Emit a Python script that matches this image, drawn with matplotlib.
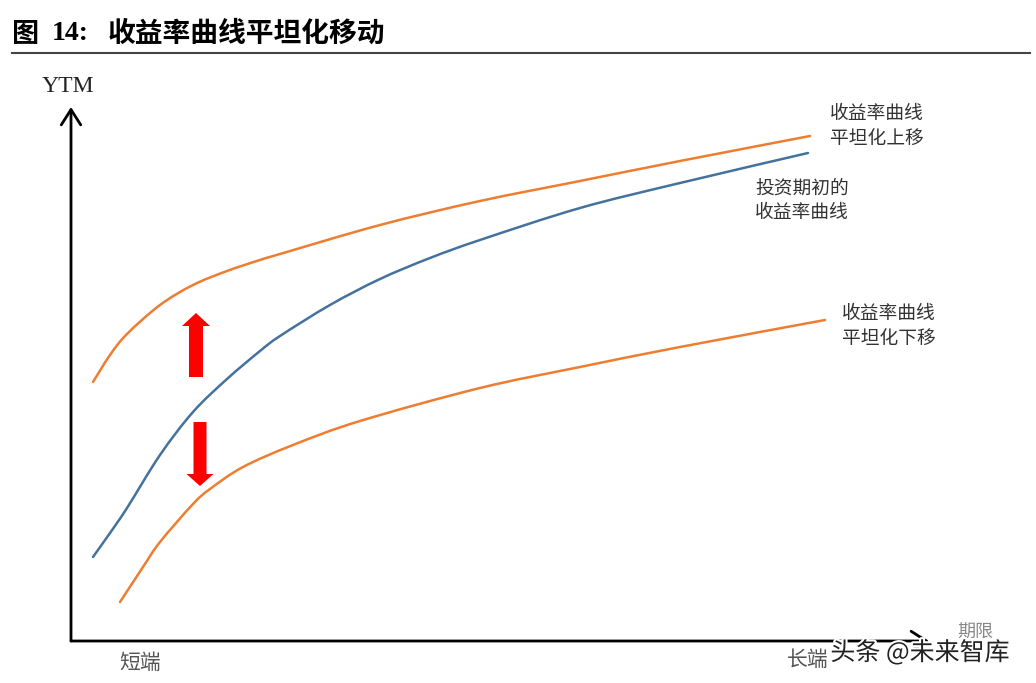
import numpy as np
import matplotlib.pyplot as plt
import matplotlib.patheffects as pe
from matplotlib.path import Path
from matplotlib.patches import PathPatch

plt.rcParams['font.family'] = ['Noto Sans CJK SC', 'DejaVu Sans']

# Curve values (term / yield in picture units, origin at the axes corner)
term_base = [22, 39, 56, 89, 122, 156, 189, 209, 259, 309, 359, 409, 509, 609, 737]
ytm_base = [84, 108, 133, 186, 229, 262, 290, 305, 336, 362, 383, 401, 433, 458, 488]

term_up = [22, 39, 56, 89, 122, 156, 189, 209, 309, 409, 509, 609, 739]
ytm_up = [259, 286, 307, 336, 356, 370, 381, 387, 416, 440, 460, 480, 505]

term_down = [49, 72, 89, 122, 139, 172, 222, 289, 409, 509, 609, 754]
ytm_down = [39, 74, 99, 137, 152, 174, 196, 220, 253, 274, 294, 321]

label_up = "收益率曲线\n平坦化上移"
label_base = "投资期初的\n收益率曲线"
label_down = "收益率曲线\n平坦化下移"

W, H = 1036, 683
fig = plt.figure(figsize=(W / 100, H / 100), dpi=100)

# axes: 1 data unit = 1 pixel
ax = fig.add_axes([71 / W, (H - 641) / H, (W - 71) / W, (641 - 60) / H])
ax.set_xlim(0, W - 71)
ax.set_ylim(0, 641 - 60)
ax.axis("off")

orange = "#ED7D31"
blue = "#44729D"


# smooth line through the read points (Catmull-Rom drawn as Bezier segments)
def smooth_line(ax, xs, ys, color):
    p = np.column_stack([xs, ys]).astype(float)
    verts = [p[0]]
    codes = [Path.MOVETO]
    for i in range(len(p) - 1):
        p0 = p[i - 1] if i > 0 else p[i]
        p3 = p[i + 2] if i + 2 < len(p) else p[i + 1]
        c1 = p[i] + (p[i + 1] - p0) / 6
        c2 = p[i + 1] - (p3 - p[i]) / 6
        verts += [c1, c2, p[i + 1]]
        codes += [Path.CURVE4] * 3
    ax.add_patch(PathPatch(Path(verts, codes), fill=False, edgecolor=color,
                           lw=1.8, capstyle="round"))


smooth_line(ax, term_up, ytm_up, orange)
smooth_line(ax, term_base, ytm_base, blue)
smooth_line(ax, term_down, ytm_down, orange)

# axes with arrows
arrow_kw = dict(arrowstyle="->,head_length=0.55,head_width=0.35", color="black",
                lw=2, mutation_scale=20, shrinkA=0, shrinkB=0)
ax.annotate("", xy=(0, 534), xytext=(0, 0), arrowprops=arrow_kw)
ax.annotate("", xy=(858, 0), xytext=(0, 0), arrowprops=arrow_kw)

# red shift arrows
ax.arrow(125, 264, 0, 51, width=14, head_width=28, head_length=13,
         color="#FF0000", length_includes_head=False, lw=0)
ax.arrow(129, 219, 0, -52, width=13, head_width=27, head_length=12,
         color="#FF0000", length_includes_head=False, lw=0)


def ftext(x, y, s, **kw):
    fig.text(x / W, 1 - y / H, s, **kw)


# title
ftext(12, 34, "图", fontsize=19.5, fontweight="bold", va="center", color="black")
ftext(52, 34, "14:", fontsize=20, fontweight="bold", va="center", color="black",
      family="Liberation Serif")
ftext(108, 34, "收益率曲线平坦化移动", fontsize=20, fontweight="bold", va="center",
      color="black")
fig.add_artist(plt.Line2D([12 / W, 1030 / W], [1 - 53 / H, 1 - 53 / H],
                          color="#444444", lw=1.5))

# axis labels
ftext(68, 86, "YTM", fontsize=17, ha="center", va="center", color="#222222",
      family="Liberation Serif")
ftext(140, 663, "短端", fontsize=15, ha="center", va="center", color="#555555")
ftext(808, 660, "长端", fontsize=15, ha="center", va="center", color="#555555")
ftext(975, 633, "期限", fontsize=13, ha="center", va="center", color="#888888")

# curve labels
ftext(830, 126, label_up, fontsize=13.5, ha="left", va="center", color="#333333",
      linespacing=1.2)
ftext(755, 200, label_base, fontsize=13.5, ha="left", va="center", color="#333333",
      linespacing=1.2)
ftext(842, 326, label_down, fontsize=13.5, ha="left", va="center", color="#333333",
      linespacing=1.2)

# watermark
ftext(920, 653, "头条 @未来智库", fontsize=18, ha="center", va="center", color="#222222",
      path_effects=[pe.withStroke(linewidth=3, foreground="white")])

fig.savefig("out.png", dpi=100)
